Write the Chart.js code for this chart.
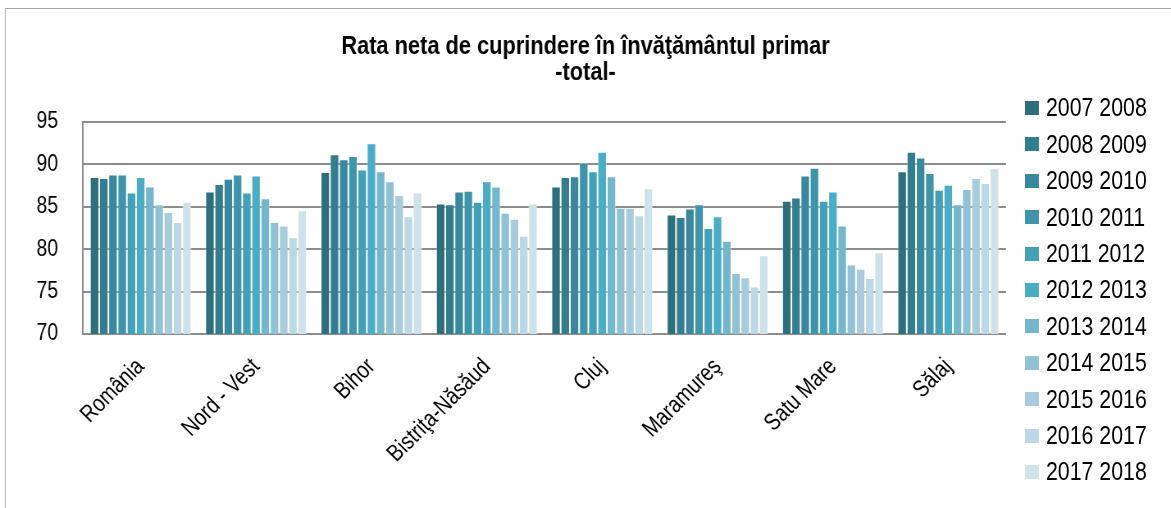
<!DOCTYPE html>
<html>
<head>
<meta charset="utf-8">
<script src="https://cdn.jsdelivr.net/npm/chart.js@4/dist/chart.umd.min.js"></script>
<style>
    html, body { margin: 0; padding: 0; background: #fff; overflow: hidden; }
    /* the original chart is horizontally condensed: draw it wider and squeeze it */
    #wrap { position: absolute; left: 0; top: 0; width: 1428px; height: 508px; transform: scaleX(0.82); transform-origin: 0 0; }
    #frame { position: absolute; left: 6px; top: 8px; width: 1440px; height: 540px; border: 1px solid #a6a6a6; box-sizing: border-box; }
    #chart { position: absolute; left: 0; top: 0; }
    #legend { position: absolute; left: 1250px; top: 89.8px; font-family: "Liberation Sans", Arial, sans-serif; font-size: 26px; color: #000; }
    .item { display: flex; align-items: center; height: 36.4px; white-space: nowrap; }
    .swatch { width: 17px; height: 14px; margin-right: 8.6px; }
</style>
</head>
<body>
<div id="wrap">
    <div id="frame"></div>
    <canvas id="chart" width="1428" height="508"></canvas>
    <div id="legend"></div>
</div>
<script>
// Categories and school years
const regions = ['România', 'Nord - Vest', 'Bihor', 'Bistriţa-Năsăud', 'Cluj', 'Maramureş', 'Satu Mare', 'Sălaj'];
const years = ['2007 2008', '2008 2009', '2009 2010', '2010 2011', '2011 2012', '2012 2013',
    '2013 2014', '2014 2015', '2015 2016', '2016 2017', '2017 2018'];

// Values per school year, in region order
const y2007 = [88.5, 86.8, 89.1, 85.4, 87.4, 84.1, 85.7, 89.2];
const y2008 = [88.4, 87.7, 91.2, 85.3, 88.5, 83.8, 86.1, 91.5];
const y2009 = [88.8, 88.3, 90.6, 86.8, 88.6, 84.8, 88.7, 90.8];
const y2010 = [88.8, 88.8, 91.0, 86.9, 90.2, 85.3, 89.6, 89.0];
const y2011 = [86.7, 86.7, 89.4, 85.6, 89.2, 82.5, 85.7, 87.0];
const y2012 = [88.5, 88.7, 92.5, 88.0, 91.5, 83.9, 86.8, 87.6];
const y2013 = [87.4, 86.0, 89.2, 87.4, 88.6, 81.0, 82.8, 85.3];
const y2014 = [85.3, 83.2, 88.0, 84.3, 84.9, 77.2, 78.2, 87.1];
const y2015 = [84.4, 82.8, 86.4, 83.6, 84.9, 76.7, 77.7, 88.4];
const y2016 = [83.2, 81.4, 83.9, 81.6, 84.0, 75.6, 76.6, 87.8];
const y2017 = [85.6, 84.6, 86.7, 85.4, 87.2, 79.3, 79.6, 89.6];
const series = [y2007, y2008, y2009, y2010, y2011, y2012, y2013, y2014, y2015, y2016, y2017];

// Y axis ticks
const yMin = 70;
const yMax = 95;
const yStep = 5;

const palette = ['#2e6f7e', '#337d8f', '#3a889e', '#3f94a9', '#44a0b6', '#4aadc5',
    '#74b6cb', '#91c2d3', '#a8ccdb', '#bbd8e4', '#cde2e9'];

const squeeze = 0.82;
const fontFamily = '"Liberation Sans", Arial, sans-serif';
Chart.defaults.font.family = fontFamily;
Chart.defaults.color = '#000';

// Category labels at 45 degrees. The page is squeezed afterwards, so the
// transform undoes the squeeze on the rotation and keeps the letters upright.
const slantedLabels = {
    id: 'slantedLabels',
    afterDraw(chart) {
        const ctx = chart.ctx;
        const xScale = chart.scales.x;
        const c = Math.SQRT1_2;
        ctx.save();
        ctx.font = '24px ' + fontFamily;
        ctx.fillStyle = '#000';
        ctx.textAlign = 'right';
        ctx.textBaseline = 'middle';
        regions.forEach((name, i) => {
            ctx.save();
            ctx.translate(xScale.getPixelForTick(i), xScale.top + 29);
            ctx.transform(c, -c * squeeze, c / squeeze, c, 0, 0);
            ctx.fillText(name, 0, 0);
            ctx.restore();
        });
        ctx.restore();
    }
};

const datasets = series.map((values, i) => ({
    label: years[i],
    data: values,
    yAxisID: 'y',
    backgroundColor: palette[i],
    borderColor: 'rgba(255,255,255,0.4)',
    borderWidth: 1,
    borderSkipped: 'bottom',
    barPercentage: 1,
    categoryPercentage: 0.88
}));

new Chart(document.getElementById('chart'), {
    type: 'bar',
    data: { labels: regions, datasets: datasets },
    plugins: [slantedLabels],
    options: {
        responsive: false,
        animation: false,
        plugins: {
            legend: { display: false },
            tooltip: { enabled: false },
            title: {
                display: true,
                text: ['Rata neta de cuprindere în învăţământul primar', '-total-'],
                font: { size: 26.6, weight: 'bold', lineHeight: '26px' },
                color: '#000',
                padding: { top: 34, bottom: 36 }
            }
        },
        scales: {
            y: {
                min: yMin,
                max: yMax,
                ticks: { stepSize: yStep, padding: 30.5, font: { size: 23.5 } },
                grid: { color: '#8c8c8c', lineWidth: 2, drawTicks: false },
                border: { color: '#8c8c8c', width: 2 },
                afterFit: (axis) => { axis.width = 101.2; }
            },
            // empty axis that keeps room free for the legend on the right
            legendRoom: {
                position: 'right',
                ticks: { display: false },
                grid: { display: false, drawTicks: false },
                border: { display: false },
                afterFit: (axis) => { axis.width = 201.2; }
            },
            x: {
                ticks: { display: false },
                grid: { display: false, drawTicks: false },
                border: { color: '#8c8c8c', width: 2 },
                afterFit: (axis) => { axis.height = 174; }
            }
        }
    }
});

// Legend on the right
const legend = document.getElementById('legend');
years.forEach((name, i) => {
    const row = document.createElement('div');
    row.className = 'item';
    row.innerHTML = `<span class="swatch" style="background:${palette[i]}"></span><span>${name}</span>`;
    legend.appendChild(row);
});
</script>
</body>
</html>
